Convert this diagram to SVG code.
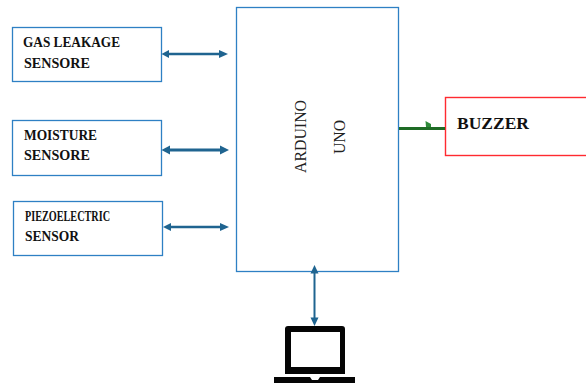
<svg xmlns="http://www.w3.org/2000/svg" width="586" height="383" viewBox="0 0 586 383">
<style>
.box{fill:#fff;stroke:#2e80c4;stroke-width:1.300}
.t{font-family:"Liberation Serif",serif;font-weight:bold;fill:#111}
.r{font-family:"Liberation Serif",serif;fill:#222;font-size:16px}
.c{stroke:#1f6490;fill:none}
.h{fill:#1f6490}
</style>
<rect width="586" height="383" fill="#fff"/>
<g id="gas"><rect class="box" x="12.500" y="27.500" width="149" height="54"/>
<text class="t" x="23" y="47" font-size="14" textLength="97" lengthAdjust="spacingAndGlyphs">GAS LEAKAGE</text>
<text class="t" x="24" y="68" font-size="14" textLength="66" lengthAdjust="spacingAndGlyphs">SENSORE</text></g>
<g id="moisture"><rect class="box" x="12.500" y="120.500" width="149" height="55"/>
<text class="t" x="24" y="140" font-size="14" textLength="73" lengthAdjust="spacingAndGlyphs">MOISTURE</text>
<text class="t" x="24" y="160" font-size="14" textLength="66" lengthAdjust="spacingAndGlyphs">SENSORE</text></g>
<g id="piezo"><rect class="box" x="13.500" y="201.500" width="149" height="54"/>
<text class="t" x="25" y="221" font-size="14" textLength="85" lengthAdjust="spacingAndGlyphs">PIEZOELECTRIC</text>
<text class="t" x="25" y="241" font-size="14" textLength="54" lengthAdjust="spacingAndGlyphs">SENSOR</text></g>
<g id="arduino"><rect class="box" x="236.500" y="7.500" width="162" height="264"/>
<text class="r" transform="translate(306 173) rotate(-90)" textLength="73" lengthAdjust="spacingAndGlyphs">ARDUINO</text>
<text class="r" transform="translate(345 154) rotate(-90)" textLength="34" lengthAdjust="spacingAndGlyphs">UNO</text></g>
<g id="buzzer"><rect x="445.500" y="97.500" width="145" height="58" fill="#fff" stroke="#ff2a30" stroke-width="1.400"/>
<text class="t" x="457" y="129" font-size="17" textLength="72" lengthAdjust="spacingAndGlyphs">BUZZER</text></g>
<g id="laptop">
<path fill-rule="evenodd" fill="#050505" d="M288 326H342Q345 326 345 329V374H285V329Q285 326 288 326ZM291 332V367H340V332Z"/>
<path fill="#050505" d="M274 377H310L312 380H318L320 377H355V383H274Z"/>
</g>
<g id="connectors">
<path class="c" stroke-width="2.400" d="M168 54H222"/>
<path class="h" d="M161.500 54L169 50V58Z"/><path class="h" d="M228 54L219 50V58Z"/>
<path class="c" stroke-width="3" d="M168 150H222"/>
<path class="h" d="M161.500 150L170 145.500V154.500Z"/><path class="h" d="M229 150L220 145.500V154.500Z"/>
<path class="c" stroke-width="2.400" d="M168 227H222"/>
<path class="h" d="M163 227L171 223V231Z"/><path class="h" d="M229 227L220 223V231Z"/>
<path class="c" stroke-width="2" d="M314.500 272V320"/>
<path class="h" d="M314.500 265L310.500 273.500H318.500Z"/><path class="h" d="M314.500 326L310.500 317.500H318.500Z"/>
<path d="M399 128.500H445" stroke="#1e6b25" stroke-width="3" fill="none"/>
<path d="M425.500 121L431 124V127H426Z" fill="#2f8a3a"/>
</g>
</svg>
